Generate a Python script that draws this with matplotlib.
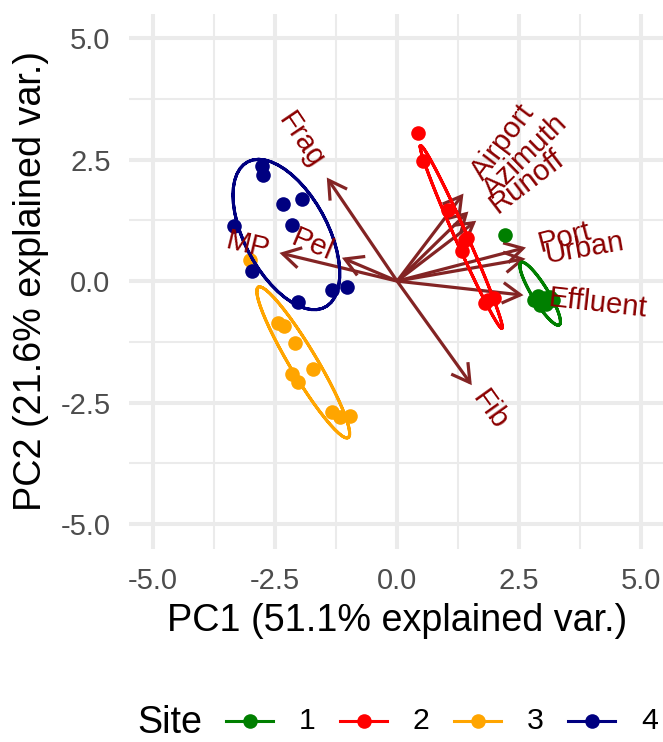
import numpy as np
import matplotlib
matplotlib.use("Agg")
import matplotlib.pyplot as plt
import matplotlib.transforms as mtransforms
from matplotlib.patches import FancyArrowPatch, ArrowStyle
from matplotlib.lines import Line2D

plt.rcParams['font.family'] = ['Liberation Sans', 'DejaVu Sans']

# ---------------- data ----------------
sites = ["1", "2", "3", "4"]
site_colors = ["#007F00", "#FF0000", "#FFA500", "#000080"]

site1_pc1 = [2.22, 2.81, 2.89, 2.95, 3.02, 3.08, 3.14, 3.20, 2.93, 3.06]
site1_pc2 = [0.95, -0.38, -0.30, -0.44, -0.34, -0.40, -0.32, -0.38, -0.50, -0.48]

site2_pc1 = [0.42, 0.54, 1.05, 1.39, 1.44, 1.33, 1.81, 1.98, 1.87]
site2_pc2 = [3.04, 2.46, 1.47, 0.85, 0.89, 0.61, -0.45, -0.34, -0.38]

site3_pc1 = [-3.01, -2.44, -2.32, -2.09, -1.72, -2.16, -2.02, -1.34, -1.17, -0.96]
site3_pc2 = [0.43, -0.86, -0.93, -1.28, -1.81, -1.91, -2.08, -2.70, -2.80, -2.77]

site4_pc1 = [-2.77, -2.74, -2.34, -1.95, -2.16, -3.35, -2.98, -2.02, -1.34, -1.03]
site4_pc2 = [2.37, 2.18, 1.58, 1.69, 1.15, 1.14, 0.21, -0.43, -0.18, -0.13]

var_names = ["Frag", "MP", "Pel", "Airport", "Azimuth", "Runoff", "Port", "Urban", "Effluent", "Fib"]
var_pc1 = [-1.44, -2.41, -1.13, 1.36, 1.46, 1.62, 2.64, 2.63, 2.59, 1.53]
var_pc2 = [2.13, 0.58, 0.48, 1.80, 1.43, 1.24, 0.69, 0.46, -0.29, -2.14]

x_label = "PC1 (51.1% explained var.)"
y_label = "PC2 (21.6% explained var.)"
legend_title = "Site"
ticks = [-5.0, -2.5, 0.0, 2.5, 5.0]
tick_labels = ["-5.0", "-2.5", "0.0", "2.5", "5.0"]
minor_ticks = [-3.75, -1.25, 1.25, 3.75]
ellipse_prob = 0.68

groups_pc1 = [site1_pc1, site2_pc1, site3_pc1, site4_pc1]
groups_pc2 = [site1_pc2, site2_pc2, site3_pc2, site4_pc2]

# ---------------- figure ----------------
W, H = 663, 742
fig = plt.figure(figsize=(W / 100, H / 100), dpi=100)
fig.patch.set_facecolor("white")
ax_l, ax_r, ax_t, ax_b = 128.6, 665.6, 13.6, 548.6
ax = fig.add_axes([ax_l / W, (H - ax_b) / H, (ax_r - ax_l) / W, (ax_b - ax_t) / H])
ax.set_xlim(-5.5, 5.5)
ax.set_ylim(-5.5, 5.5)
ax.set_facecolor("white")
for s in ax.spines.values():
    s.set_visible(False)

grid_c = "#EBEBEB"
for v in ticks:
    ax.axvline(v, color=grid_c, lw=2.9, zorder=0)
    ax.axhline(v, color=grid_c, lw=2.9, zorder=0)
for v in minor_ticks:
    ax.axvline(v, color=grid_c, lw=1.45, zorder=0)
    ax.axhline(v, color=grid_c, lw=1.45, zorder=0)

ax.set_xticks(ticks)
ax.set_xticklabels(tick_labels)
ax.set_yticks(ticks)
ax.set_yticklabels(tick_labels)
ax.tick_params(axis="both", length=0, labelsize=21, labelcolor="#4D4D4D")
ax.tick_params(axis="x", pad=13)
ax.tick_params(axis="y", pad=13)
ax.set_xlabel(x_label, fontsize=27.2, labelpad=6)
ax.set_ylabel(y_label, fontsize=27.2, labelpad=8)

# arrows
arrow_c = "#832424"
style = ArrowStyle("->", head_length=12.8, head_width=7.4)
for vx, vy in zip(var_pc1, var_pc2):
    ar = FancyArrowPatch(posA=(0, 0), posB=(vx, vy), arrowstyle=style, mutation_scale=1,
                         lw=2.3, color=arrow_c, shrinkA=0, shrinkB=0, zorder=3,
                         capstyle="butt", joinstyle="miter")
    ax.add_patch(ar)

# points
for px, py, c in zip(groups_pc1, groups_pc2, site_colors):
    ax.plot(px, py, "o", ms=10.5, color=c, mec="none", zorder=4)

# ellipses (68% normal probability, as in ggbiplot)
theta = np.concatenate([np.linspace(-np.pi, np.pi, 50), np.linspace(np.pi, -np.pi, 50)])
circle = np.column_stack([np.cos(theta), np.sin(theta)])
ed = np.sqrt(-2 * np.log(1 - ellipse_prob))
for px, py, c in zip(groups_pc1, groups_pc2, site_colors):
    d = np.column_stack([px, py])
    sigma = np.cov(d.T)
    mu = d.mean(axis=0)
    R = np.linalg.cholesky(sigma).T
    ell = circle @ R * ed + mu
    ax.plot(ell[:, 0], ell[:, 1], color=c, lw=2.2, zorder=5)

# variable labels
renderer = fig.canvas.get_renderer()
lab_fs = 21.2
for name, vx, vy in zip(var_names, var_pc1, var_pc2):
    ang = np.degrees(np.arctan(vy / vx))
    probe = ax.text(0, 0, name, fontsize=lab_fs)
    w = probe.get_window_extent(renderer).width
    probe.remove()
    sgn = np.sign(vx)
    dd = 0.25 * w
    dx = sgn * np.cos(np.radians(ang)) * dd
    dy = sgn * np.sin(np.radians(ang)) * dd
    tr = mtransforms.offset_copy(ax.transData, fig=fig, x=dx, y=dy, units="dots")
    ax.text(vx, vy, name, rotation=ang, rotation_mode="anchor",
            ha="left" if vx > 0 else "right", va="center", transform=tr,
            fontsize=lab_fs, color="#8B0000", zorder=6)

# legend (drawn in figure pixels)
ly = H - 721
fig.text(137 / W, (H - 741) / H, legend_title, fontsize=27.2, ha="left", va="bottom")
key_starts = [226, 340, 454, 568]
for ks, lab, c in zip(key_starts, sites, site_colors):
    fig.add_artist(Line2D([ks / W, (ks + 47) / W], [ly / H, ly / H], color=c, lw=2.2,
                          transform=fig.transFigure))
    fig.add_artist(Line2D([(ks + 23.5) / W], [ly / H], marker="o", ms=10.5, color=c,
                          mec="none", transform=fig.transFigure))
    fig.text((ks + 73) / W, ly / H, lab, fontsize=21.8, ha="left", va="center")

fig.savefig("out.png", dpi=100, facecolor="white")
